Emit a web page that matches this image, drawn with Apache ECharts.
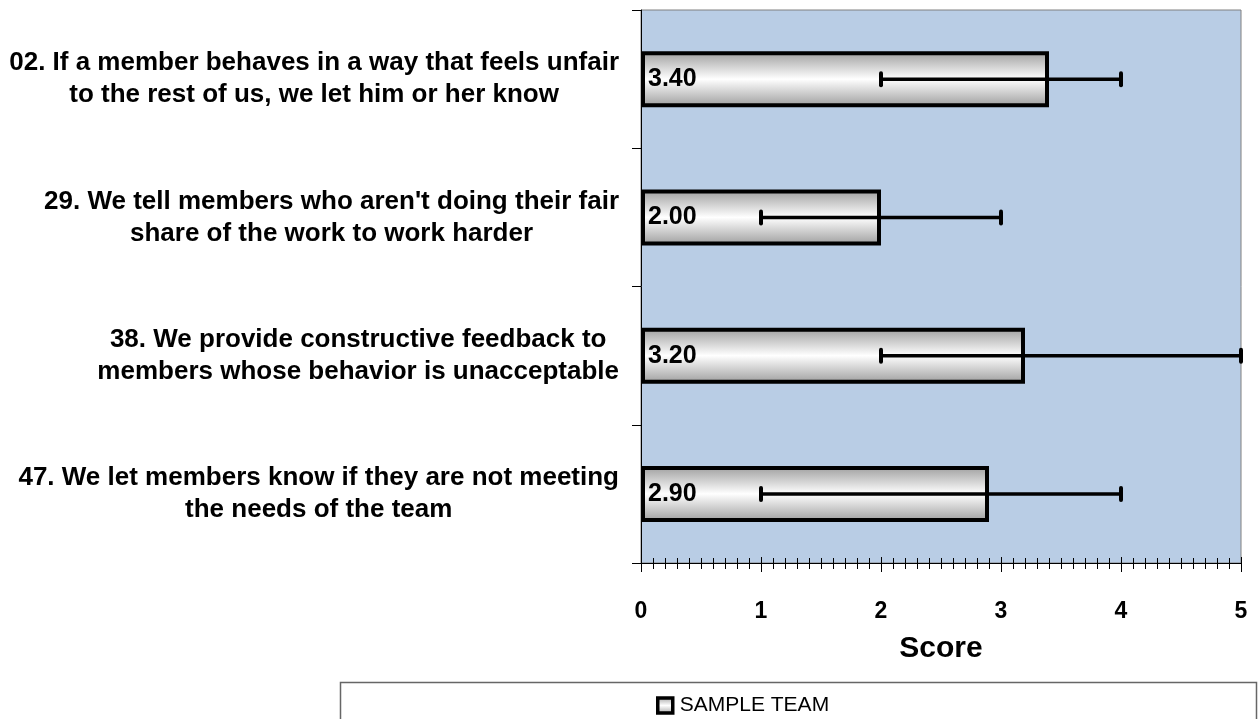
<!DOCTYPE html>
<html>
<head>
<meta charset="utf-8">
<script src="https://cdn.jsdelivr.net/npm/echarts@6/dist/echarts.min.js"></script>
<style>
  html, body { margin: 0; padding: 0; background: #fff; }
  #main { width: 1259px; height: 719px; }
</style>
</head>
<body>
<div id="main"></div>
<script>
var categories = [
    "02. If a member behaves in a way that feels unfair\nto the rest of us, we let him or her know",
    "29. We tell members who aren't doing their fair\nshare of the work to work harder",
    "38. We provide constructive feedback to\nmembers whose behavior is unacceptable",
    "47. We let members know if they are not meeting\nthe needs of the team"
];
var scores = [3.40, 2.00, 3.20, 2.90];
var lows = [2, 1, 2, 1];
var highs = [4, 3, 5, 4];
var xTicks = [0, 1, 2, 3, 4, 5];
var seriesName = 'SAMPLE TEAM';

var font = 'Liberation Sans, Arial, sans-serif';
var myChart = echarts.init(document.getElementById('main'));

var barFill = new echarts.graphic.LinearGradient(0, 0, 0, 1, [
    {offset: 0, color: '#9c9c9c'},
    {offset: 0.5, color: '#ffffff'},
    {offset: 1, color: '#9c9c9c'}
]);

var errData = categories.map(function (c, i) {
    return [lows[i], highs[i], i];
});

var option = {
    animation: false,
    grid: {
        left: 641,
        right: 18,
        top: 10,
        bottom: 156,
        show: true,
        backgroundColor: '#b9cde5',
        borderColor: '#808080',
        borderWidth: 1
    },
    legend: {
        data: [seriesName],
        left: 651,
        top: 690,
        itemWidth: 15,
        itemHeight: 15,
        icon: 'rect',
        itemStyle: { borderWidth: 3.5 },
        textStyle: { fontFamily: font, fontSize: 21, color: '#000', padding: [2, 0, 0, 2] }
    },
    graphic: [{
        type: 'rect',
        shape: { x: 340.5, y: 682.5, width: 916, height: 60 },
        style: { fill: 'none', stroke: '#666', lineWidth: 1.5 },
        silent: true
    }],
    xAxis: [{
        type: 'value',
        min: xTicks[0],
        max: xTicks[xTicks.length - 1],
        interval: 1,
        name: 'Score',
        nameLocation: 'middle',
        nameGap: 71,
        nameTextStyle: { fontFamily: font, fontSize: 30, fontWeight: 'bold', color: '#000' },
        axisLine: { show: true, lineStyle: { color: '#000', width: 1 } },
        axisTick: { show: true, length: 9, lineStyle: { color: '#000' } },
        minorTick: { show: true, splitNumber: 10, length: 6, lineStyle: { color: '#000' } },
        splitLine: { show: false },
        axisLabel: { margin: 37, fontFamily: font, fontSize: 23, fontWeight: 'bold', color: '#000' }
    }, {
        type: 'value',
        min: xTicks[0],
        max: xTicks[xTicks.length - 1],
        interval: 1,
        position: 'bottom',
        axisLine: { show: false },
        axisTick: { show: true, inside: true, length: 6, lineStyle: { color: '#000' } },
        minorTick: { show: true, splitNumber: 10, length: 5, lineStyle: { color: '#000' } },
        splitLine: { show: false },
        axisLabel: { show: false }
    }],
    yAxis: {
        type: 'category',
        data: categories,
        inverse: true,
        axisLine: { show: true, lineStyle: { color: '#000', width: 1 } },
        axisTick: { show: true, length: 9, lineStyle: { color: '#000' } },
        axisLabel: {
            margin: 22,
            formatter: function (v) {
                return v.split('\n').map(function (l) { return '{t|' + l + '}'; }).join('\n');
            },
            rich: {
                t: {
                    align: 'center',
                    fontFamily: font,
                    fontSize: 26,
                    fontWeight: 'bold',
                    color: '#000',
                    lineHeight: 32
                }
            }
        }
    },
    series: [
        {
            name: seriesName,
            type: 'bar',
            data: scores,
            barWidth: 56,
            itemStyle: {
                color: barFill,
                borderColor: '#000',
                borderWidth: 4
            },
            label: {
                show: true,
                position: 'insideLeft',
                distance: 7,
                fontFamily: font,
                fontSize: 25,
                fontWeight: 'bold',
                color: '#000',
                formatter: function (p) { return p.value.toFixed(2); }
            },
            z: 2
        },
        {
            name: 'range',
            type: 'custom',
            data: errData,
            encode: { x: [0, 1], y: 2 },
            z: 5,
            renderItem: function (params, api) {
                var p1 = api.coord([api.value(0), api.value(2)]);
                var p2 = api.coord([api.value(1), api.value(2)]);
                var h = 6;
                var st = { stroke: '#000', lineWidth: 4, lineCap: 'round' };
                return {
                    type: 'group',
                    children: [
                        { type: 'line', shape: { x1: p1[0], y1: p1[1], x2: p2[0], y2: p2[1] }, style: { stroke: '#000', lineWidth: 3.5 } },
                        { type: 'line', shape: { x1: p1[0], y1: p1[1] - h, x2: p1[0], y2: p1[1] + h }, style: st },
                        { type: 'line', shape: { x1: p2[0], y1: p2[1] - h, x2: p2[0], y2: p2[1] + h }, style: st }
                    ]
                };
            }
        }
    ]
};

myChart.setOption(option);
</script>
</body>
</html>
